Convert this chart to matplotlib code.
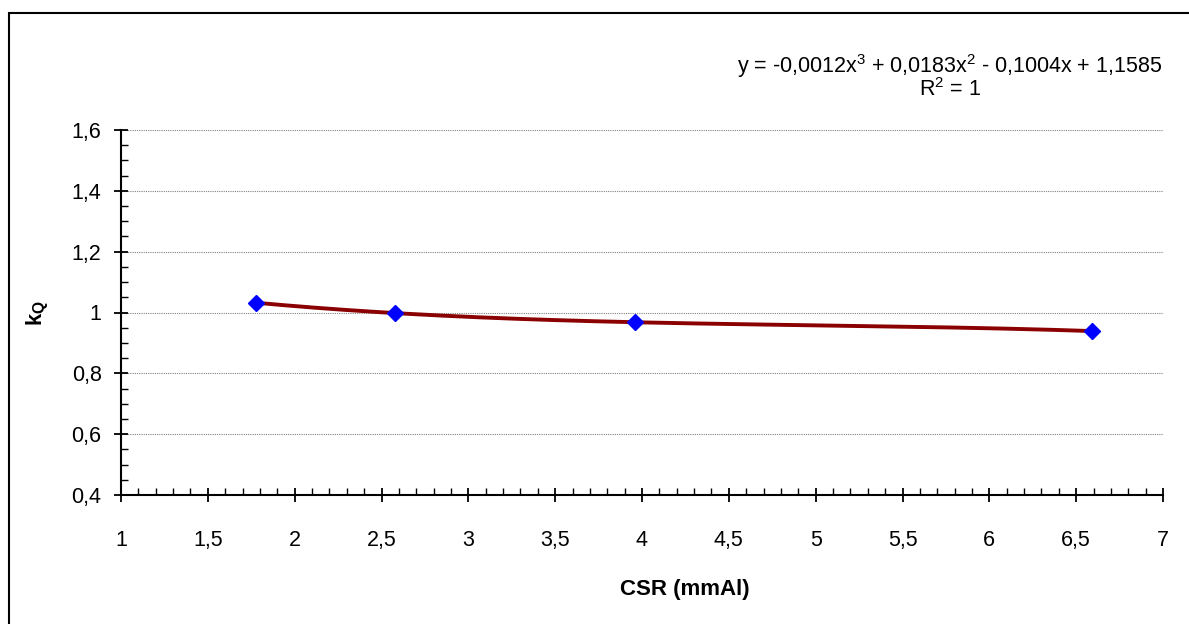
import numpy as np
import matplotlib
matplotlib.use('Agg')
import matplotlib.pyplot as plt
from matplotlib.ticker import MultipleLocator, FuncFormatter
from matplotlib.patches import Rectangle

plt.rcParams['font.family'] = ['Liberation Sans', 'DejaVu Sans']
plt.rcParams['mathtext.fontset'] = 'custom'
plt.rcParams['mathtext.rm'] = 'Liberation Sans'
plt.rcParams['mathtext.it'] = 'Liberation Sans:italic'
plt.rcParams['mathtext.bf'] = 'Liberation Sans:bold'

# data
csr = [1.78, 2.58, 3.96, 6.59]
kq = [1.032, 0.998, 0.968, 0.939]
xticks = [1, 1.5, 2, 2.5, 3, 3.5, 4, 4.5, 5, 5.5, 6, 6.5, 7]
yticks = [0.4, 0.6, 0.8, 1.0, 1.2, 1.4, 1.6]
equation = 'y = -0,0012x$^3$ + 0,0183x$^2$ - 0,1004x + 1,1585'
r2_text = 'R$^2$ = 1'

fig = plt.figure(figsize=(11.89, 6.24), dpi=100)
# outer chart-area border
fig.patches.append(Rectangle((8.5/1189, -0.1), 1.2, 1.1 - 13.5/624,
                             transform=fig.transFigure, fill=False,
                             edgecolor='black', linewidth=1.5))

ax = fig.add_axes([121/1189, 1 - 495/624, (1163 - 121)/1189, (495 - 130)/624])

# cubic trend line through the points
coef = np.polyfit(csr, kq, 3)
xs = np.linspace(min(csr), max(csr), 300)
ax.plot(xs, np.polyval(coef, xs), color='#8B0000', linewidth=2.8, zorder=2)
ax.plot(csr, kq, linestyle='none', marker='D', markersize=8.5,
        color='#0000FF', zorder=3)

ax.set_xlim(1, 7)
ax.set_ylim(0.4, 1.6)
ax.set_xticks(xticks)
ax.set_yticks(yticks)
ax.xaxis.set_minor_locator(MultipleLocator(0.1))
ax.yaxis.set_minor_locator(MultipleLocator(0.05))

fmt = FuncFormatter(lambda v, p: ('%g' % round(v, 2)).replace('.', ','))
ax.xaxis.set_major_formatter(fmt)
ax.yaxis.set_major_formatter(fmt)

ax.tick_params(which='major', direction='inout', length=10, width=1.3,
               labelsize=15.5, color='black')
ax.tick_params(which='minor', direction='in', length=5, width=1.0)
ax.tick_params(axis='x', which='major', pad=20)
ax.tick_params(axis='y', which='major', pad=9)

for s in ['top', 'right']:
    ax.spines[s].set_visible(False)
for s in ['left', 'bottom']:
    ax.spines[s].set_linewidth(1.5)

for yv in yticks[1:]:
    ax.axhline(yv, color='#808080', linestyle=(0, (1, 1)), linewidth=0.8,
               zorder=1)

fig.text(685/1189, 1 - 590/624, 'CSR (mmAl)', fontsize=16, fontweight='bold',
         ha='center', va='center')
fig.text(38/1189, 1 - 313/624, 'k$_\\mathbf{Q}$', fontsize=16, fontweight='bold',
         rotation=90, ha='center', va='center')

fig.text(950/1189, 1 - 66/624, equation, fontsize=15.5, ha='center', va='center')
fig.text(950/1189, 1 - 90/624, r2_text, fontsize=15.5, ha='center', va='center')

fig.savefig('out.png', dpi=100)
